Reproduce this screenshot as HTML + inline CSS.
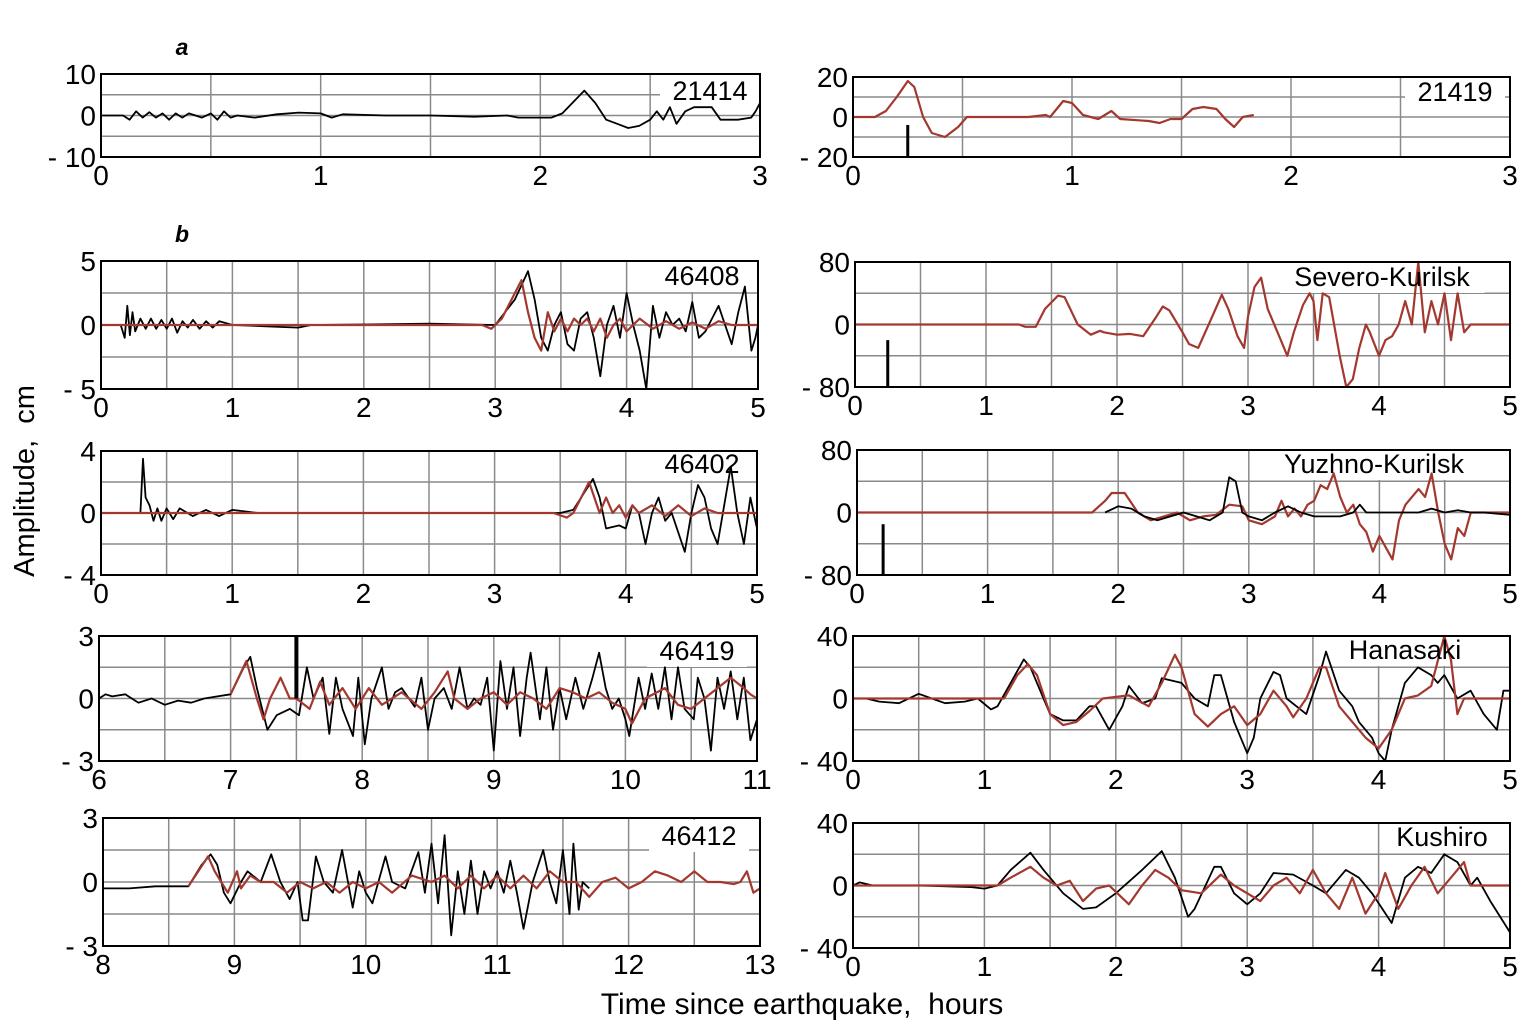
<!DOCTYPE html>
<html><head><meta charset="utf-8"><title>Tsunami records</title>
<style>
html,body{margin:0;padding:0;background:#fff;}
svg{display:block;font-family:"Liberation Sans",Arial,sans-serif;}
</style></head>
<body>
<svg id="fig" width="1533" height="1032" viewBox="0 0 1533 1032">
<rect x="0" y="0" width="1533" height="1032" fill="#fff"/>
<text x="182" y="55" font-size="23" font-weight="bold" font-style="italic" text-anchor="middle">a</text>
<text x="182" y="242" font-size="23" font-weight="bold" font-style="italic" text-anchor="middle">b</text>
<text transform="translate(34,481) rotate(-90)" font-size="29" text-anchor="middle">Amplitude,&#160; cm</text>
<text x="802" y="1014" font-size="30" text-anchor="middle">Time since earthquake,&#160; hours</text>
</svg>
<script>
// ---- data arrays ([hours, cm]) ----
const s21414Black=[[0,0],[0.1,0],[0.13,-1],[0.16,1],[0.19,-0.5],[0.22,0.8],[0.25,-0.5],[0.28,0.5],[0.31,-1],[0.34,0.5],[0.37,-0.5],[0.4,0.5],[0.43,0],[0.46,-0.5],[0.5,0.5],[0.53,-1],[0.56,1],[0.59,-0.5],[0.62,0],[0.7,-0.5],[0.8,0.3],[0.9,0.7],[1.0,0.5],[1.05,-0.5],[1.1,0.3],[1.3,0],[1.5,0],[1.7,-0.3],[1.85,0],[1.9,-0.5],[2.05,-0.5],[2.1,0.5],[2.2,6],[2.25,3],[2.3,-1],[2.35,-2],[2.4,-3],[2.45,-2.5],[2.5,-1],[2.53,1],[2.56,-1],[2.59,2],[2.62,-2],[2.66,1],[2.7,2],[2.78,2],[2.82,-1],[2.9,-1],[2.96,-0.5],[2.98,1],[3,3]];
const s21419Red=[[0,0],[0.1,0],[0.15,3],[0.2,10],[0.25,18],[0.28,15],[0.32,0],[0.36,-8],[0.42,-10],[0.48,-5],[0.52,0],[0.55,0],[0.8,0],[0.88,1],[0.9,0],[0.96,8],[1.0,7],[1.05,1],[1.12,-1],[1.18,3],[1.22,-1],[1.35,-2],[1.4,-3],[1.45,-1],[1.5,-1],[1.55,4],[1.6,5],[1.66,4],[1.7,-1],[1.74,-5],[1.78,0],[1.83,1]];
const s46408Black=[[0,0],[0.15,0],[0.18,-1],[0.2,1.5],[0.22,-0.8],[0.24,1],[0.26,-0.5],[0.3,0.5],[0.34,-0.3],[0.38,0.5],[0.42,-0.3],[0.46,0.4],[0.5,-0.3],[0.54,0.5],[0.58,-0.6],[0.62,0.3],[0.66,-0.2],[0.7,0.4],[0.75,-0.3],[0.8,0.3],[0.85,-0.2],[0.9,0.3],[1.0,0],[1.5,-0.2],[1.6,0],[2.5,0.1],[3,0],[3.15,2],[3.25,4.2],[3.3,2],[3.35,-1],[3.4,-2],[3.45,0],[3.5,1],[3.55,-1.5],[3.6,-2],[3.65,0.5],[3.7,1],[3.75,-1],[3.8,-4],[3.85,0],[3.9,1.5],[3.95,-1],[4.0,2.5],[4.05,0],[4.1,-2],[4.15,-5],[4.2,1.5],[4.25,-1],[4.3,1],[4.35,0],[4.4,0.5],[4.45,-0.5],[4.5,1.8],[4.55,-1],[4.6,-0.5],[4.65,0.5],[4.7,1.5],[4.75,0],[4.8,-1.5],[4.85,1],[4.9,3],[4.95,-2],[4.98,-1],[5,0]];
const s46408Red=[[0,0],[2.9,0],[2.97,-0.3],[3.05,0.5],[3.2,3.5],[3.25,1],[3.3,-1],[3.35,-2],[3.4,1],[3.45,-0.5],[3.5,0.5],[3.55,-0.5],[3.6,0.5],[3.65,0],[3.7,0.5],[3.75,-0.5],[3.8,0.5],[3.85,-1],[3.9,0],[3.95,0.5],[4.0,-0.5],[4.1,0.5],[4.2,-0.3],[4.3,0.3],[4.4,-0.3],[4.5,0.2],[4.6,-0.3],[4.7,0.3],[4.8,0],[5,0]];
const s46402Black=[[0,0],[0.3,0],[0.32,3.5],[0.34,1],[0.37,0.5],[0.4,-0.5],[0.43,0.3],[0.46,-0.5],[0.5,0.3],[0.55,-0.4],[0.6,0.3],[0.7,-0.2],[0.8,0.2],[0.9,-0.2],[1.0,0.2],[1.2,0],[3.5,0],[3.6,0.2],[3.75,2.2],[3.8,1],[3.85,-1],[3.95,-0.8],[4.0,-1],[4.05,0.5],[4.1,0],[4.15,-2],[4.2,0],[4.25,1],[4.3,-0.5],[4.35,0],[4.45,-2.5],[4.5,0],[4.55,1.8],[4.6,1],[4.65,-1],[4.7,-2],[4.75,0.5],[4.8,3],[4.85,0],[4.9,-2],[4.95,1],[5,-1]];
const s46402Red=[[0,0],[3.45,0],[3.55,-0.3],[3.6,0],[3.72,2],[3.8,0],[3.85,1],[3.9,0],[3.95,0.5],[4.0,-0.3],[4.05,0.5],[4.1,0],[4.2,0.5],[4.3,-0.2],[4.4,0.5],[4.5,-0.2],[4.6,0.3],[4.7,0],[5,0]];
const s46419Black=[[6,0],[6.05,0.2],[6.1,0.1],[6.2,0.2],[6.3,-0.2],[6.4,0],[6.5,-0.3],[6.6,-0.1],[6.7,-0.2],[6.8,0],[6.9,0.1],[7,0.2],[7.1,1.5],[7.15,2],[7.2,0.5],[7.28,-1.5],[7.35,-0.8],[7.45,-0.5],[7.52,-0.8],[7.58,1.5],[7.63,0],[7.7,1],[7.75,-1.7],[7.8,1],[7.85,-0.5],[7.93,-1.8],[7.97,1],[8.02,-2.2],[8.07,0],[8.15,1.5],[8.2,-0.5],[8.25,0.3],[8.3,0.5],[8.4,-0.4],[8.45,1],[8.5,-1.5],[8.55,0],[8.62,0.5],[8.68,-0.5],[8.74,1.5],[8.8,-0.5],[8.85,0],[8.9,-0.3],[8.95,1],[9.0,-2.5],[9.05,1.8],[9.1,-0.5],[9.15,1.5],[9.2,-1.8],[9.25,1],[9.28,2.2],[9.35,-1],[9.4,1.5],[9.45,-1.5],[9.5,0.5],[9.55,-1],[9.62,1],[9.68,-0.5],[9.75,1],[9.8,2.2],[9.85,0.5],[9.9,-0.5],[9.95,0],[10.0,-1],[10.03,-1.8],[10.1,1],[10.15,-0.5],[10.2,1.2],[10.25,-0.5],[10.3,1.5],[10.35,-1],[10.4,1.5],[10.45,-0.5],[10.52,-1],[10.55,1],[10.6,0],[10.65,-2.5],[10.7,1],[10.75,-0.5],[10.8,1.3],[10.85,-1],[10.9,1],[10.95,-2],[11,-1]];
const s46419Red=[[7,0.2],[7.12,1.8],[7.2,0],[7.25,-1],[7.3,0],[7.38,1],[7.45,0],[7.5,0],[7.6,-0.5],[7.68,0.8],[7.75,-0.3],[7.85,0.5],[7.95,-0.5],[8.05,0.5],[8.15,-0.3],[8.3,0.3],[8.45,-0.5],[8.55,0.3],[8.65,1.3],[8.7,0],[8.8,-0.5],[8.9,0],[9.0,0.3],[9.1,-0.3],[9.2,0.3],[9.3,0],[9.4,-0.5],[9.5,0.5],[9.6,0.3],[9.7,0],[9.8,0.3],[9.9,-0.2],[10.0,-0.5],[10.05,-1.2],[10.15,0],[10.3,0.5],[10.4,-0.3],[10.5,-0.5],[10.6,0],[10.7,0.5],[10.8,1],[10.9,0.5],[10.95,0.2],[11,0]];
const s46412Black=[[8,-0.3],[8.2,-0.3],[8.4,-0.2],[8.55,-0.2],[8.65,-0.2],[8.75,0.8],[8.82,1.3],[8.87,0.8],[8.92,-0.5],[8.97,-1],[9.05,0],[9.1,0.5],[9.2,0],[9.28,1.3],[9.35,0],[9.42,-0.8],[9.48,0],[9.52,-1.8],[9.56,-1.8],[9.62,1.2],[9.68,0],[9.75,-0.5],[9.82,1.5],[9.9,-1.2],[9.95,0.5],[10.0,-0.5],[10.05,-1],[10.15,1.2],[10.2,0],[10.3,-0.3],[10.4,1.4],[10.45,-0.5],[10.5,1.8],[10.55,-1],[10.6,2.2],[10.65,-2.5],[10.7,0.5],[10.75,-1.5],[10.8,1],[10.85,-1.5],[10.9,0.5],[10.95,-0.3],[11,0.5],[11.05,-0.5],[11.1,1],[11.15,-0.5],[11.2,-2.2],[11.27,0],[11.35,1.5],[11.4,0],[11.45,-1],[11.5,1.5],[11.55,-1.5],[11.58,1.8],[11.62,-1.3],[11.65,0],[11.7,-0.3]];
const s46412Red=[[8.65,-0.2],[8.8,1.2],[8.85,0.5],[8.95,-0.5],[9.02,0.5],[9.05,-0.3],[9.12,0.3],[9.2,0],[9.3,0],[9.4,-0.5],[9.5,0],[9.6,-0.3],[9.7,0],[9.8,-0.5],[9.9,0],[10.0,-0.3],[10.1,0],[10.2,-0.5],[10.35,0.3],[10.5,0],[10.6,0.3],[10.7,-0.3],[10.8,0.3],[10.9,-0.3],[11.0,0.3],[11.1,-0.3],[11.2,0.3],[11.3,-0.3],[11.4,0.5],[11.5,0],[11.6,0],[11.7,-0.7],[11.8,0],[11.9,0.2],[12.0,-0.3],[12.1,0],[12.2,0.5],[12.3,0.3],[12.4,0],[12.5,0.5],[12.6,0],[12.7,0],[12.8,-0.1],[12.85,0],[12.9,0.5],[12.95,-0.5],[13,-0.3]];
const severoRed=[[0,0],[1.25,0],[1.3,-3],[1.38,-3],[1.45,20],[1.55,37],[1.6,35],[1.7,0],[1.8,-13],[1.87,-8],[1.9,-10],[2.0,-13],[2.1,-12],[2.2,-15],[2.3,10],[2.35,23],[2.4,18],[2.5,-10],[2.55,-25],[2.62,-30],[2.7,0],[2.8,38],[2.85,20],[2.92,-15],[2.97,-30],[3.0,10],[3.05,48],[3.1,60],[3.15,20],[3.25,-20],[3.3,-40],[3.35,-10],[3.42,25],[3.47,40],[3.5,30],[3.53,-20],[3.57,40],[3.62,35],[3.7,-40],[3.75,-80],[3.8,-70],[3.85,-30],[3.9,0],[3.93,-10],[4.0,-40],[4.05,-20],[4.1,-15],[4.15,0],[4.2,30],[4.25,0],[4.3,80],[4.35,-10],[4.4,30],[4.45,0],[4.5,40],[4.55,-20],[4.6,40],[4.65,-10],[4.7,0],[5,0]];
const yuzhnoRed=[[0,0],[1.8,0],[1.9,15],[1.95,25],[2.05,25],[2.15,0],[2.25,-10],[2.35,-5],[2.45,0],[2.55,-10],[2.65,-5],[2.75,-3],[2.85,10],[2.95,8],[3.0,-10],[3.1,-15],[3.2,-5],[3.25,15],[3.3,-5],[3.35,5],[3.4,-5],[3.45,10],[3.5,15],[3.55,35],[3.6,30],[3.65,50],[3.7,20],[3.75,0],[3.8,10],[3.85,-15],[3.9,-25],[3.95,-50],[4.0,-30],[4.05,-45],[4.1,-60],[4.15,-10],[4.2,10],[4.3,30],[4.35,20],[4.4,50],[4.45,0],[4.5,-40],[4.55,-60],[4.6,-20],[4.65,-30],[4.7,0],[5,0]];
const yuzhnoBlack=[[1.9,0],[2.0,8],[2.1,5],[2.2,-5],[2.3,-10],[2.4,-5],[2.5,0],[2.6,-5],[2.7,-10],[2.8,0],[2.85,45],[2.9,40],[2.95,0],[3.0,-5],[3.1,-10],[3.2,0],[3.3,8],[3.4,0],[3.5,-5],[3.6,-5],[3.7,-5],[3.8,0],[3.85,10],[3.9,0],[4.0,0],[4.3,0],[4.4,5],[4.5,0],[4.6,3],[4.7,0],[4.8,0],[5,-3]];
const hanasakiBlack=[[0,0],[0.1,0],[0.2,-2],[0.35,-3],[0.5,3],[0.6,0],[0.7,-3],[0.85,-2],[0.95,0],[1.05,-7],[1.1,-5],[1.2,10],[1.3,25],[1.35,20],[1.5,-10],[1.6,-14],[1.7,-14],[1.8,-5],[1.85,-5],[1.95,-20],[2.05,-5],[2.1,8],[2.2,-3],[2.3,0],[2.35,13],[2.5,10],[2.6,0],[2.7,-5],[2.75,15],[2.8,15],[2.9,-15],[3.0,-35],[3.05,-25],[3.1,0],[3.2,17],[3.25,15],[3.3,0],[3.45,-10],[3.55,15],[3.6,30],[3.7,5],[3.8,-5],[3.85,-15],[3.95,-25],[4.0,-35],[4.05,-40],[4.1,-20],[4.2,10],[4.3,20],[4.4,15],[4.45,10],[4.5,15],[4.6,0],[4.7,5],[4.8,-10],[4.9,-20],[4.95,5],[5,5]];
const hanasakiRed=[[0,0],[1.05,0],[1.15,0],[1.25,15],[1.33,22],[1.4,15],[1.5,-10],[1.6,-17],[1.7,-15],[1.8,-8],[1.9,0],[2.1,2],[2.25,-5],[2.35,10],[2.45,28],[2.5,20],[2.6,-10],[2.7,-18],[2.8,-10],[2.9,-5],[3.0,-17],[3.1,-10],[3.2,5],[3.3,-5],[3.35,-12],[3.45,0],[3.55,20],[3.6,20],[3.7,-5],[3.8,-15],[3.9,-25],[4.0,-32],[4.1,-20],[4.2,0],[4.3,2],[4.4,8],[4.5,40],[4.55,25],[4.6,-10],[4.65,0],[4.7,0],[5,0]];
const kushiroBlack=[[0,0],[0.05,2],[0.15,0],[0.5,0],[0.9,-1],[1.0,-2],[1.1,0],[1.2,10],[1.35,21],[1.45,10],[1.6,-5],[1.75,-15],[1.85,-14],[2.0,-5],[2.2,10],[2.35,22],[2.45,5],[2.55,-20],[2.6,-15],[2.75,12],[2.8,12],[2.9,-5],[3.0,-12],[3.1,-5],[3.2,8],[3.35,7],[3.5,0],[3.6,-5],[3.75,10],[3.85,5],[3.95,-5],[4.1,-24],[4.2,5],[4.3,12],[4.4,8],[4.5,20],[4.6,15],[4.7,0],[4.75,5],[4.85,-10],[5,-30]];
const kushiroRed=[[0,0],[1.1,0],[1.2,5],[1.35,12],[1.45,5],[1.55,0],[1.65,3],[1.75,-10],[1.85,-2],[1.95,0],[2.1,-12],[2.2,0],[2.3,10],[2.4,5],[2.5,-3],[2.65,-5],[2.8,7],[2.9,0],[3.0,-5],[3.1,-10],[3.2,0],[3.3,5],[3.4,-5],[3.5,10],[3.6,-5],[3.7,-15],[3.8,5],[3.9,-18],[4.0,-5],[4.05,8],[4.15,-15],[4.25,0],[4.35,12],[4.45,-5],[4.55,5],[4.65,15],[4.7,0],[5,0]];
// earthquake markers / spikes: [time, fromValue, toValue]
const marker21419=[0.25,-20,-4];
const markerSevero=[0.25,-80,-20];
const markerYuzhno=[0.2,-80,-15];
const spike46419=[7.5,0,3];
// tick labels
const ticks03=[0,1,2,3];
const ticks05=[0,1,2,3,4,5];
const ticks611=[6,7,8,9,10,11];
const ticks813=[8,9,10,11,12,13];

const NS="http://www.w3.org/2000/svg";
const svg=document.getElementById('fig');
const RED="#a3382f";
function el(tag,attrs,parent){const e=document.createElementNS(NS,tag);for(const k in attrs)e.setAttribute(k,attrs[k]);(parent||svg).appendChild(e);return e;}

function panel(p){
  const g=el('g',{});
  
  
  const xs=t=>p.x0+(t-p.tmin)/(p.tmax-p.tmin)*(p.x1-p.x0);
  const ys=v=>p.y1-(v+p.ymax)/(2*p.ymax)*(p.y1-p.y0);
  for(let t=p.tmin+0.5;t<p.tmax;t+=0.5){
    const l=el('line',{x1:xs(t),x2:xs(t),y1:p.y0,y2:p.y1,stroke:"#8a8a8a","stroke-width":1.5},g);
    
    
  }
  [-0.5,0,0.5].forEach(f=>{
    const l=el('line',{x1:p.x0,x2:p.x1,y1:ys(f*p.ymax),y2:ys(f*p.ymax),stroke:"#8a8a8a","stroke-width":1.5},g);
    
    
  });
  const lb=el('rect',{x:p.lx-p.lw/2,y:p.ly-25,width:p.lw,height:32,fill:"#fff"},g);
  
  
  p.series.forEach(s=>{
    const d=s.data.map((q,i)=>(i?'L':'M')+xs(q[0]).toFixed(1)+' '+ys(q[1]).toFixed(1)).join(' ');
    const path=el('path',{d:d,fill:"none",stroke:s.color,"stroke-width":s.color==="#000"?1.8:2.2,"stroke-linejoin":"round"},g);
    
    
  });
  (p.bars||[]).forEach(b=>{
    const r=el('line',{x1:xs(b.v[0]),x2:xs(b.v[0]),y1:ys(b.v[1]),y2:ys(b.v[2]),stroke:"#000","stroke-width":b.w},g);
    
    
  });
  const lt=el('text',{x:p.lx,y:p.ly,"font-size":27,"text-anchor":"middle"},g);
  lt.textContent=p.label;
  
  
  const fr=el('rect',{x:p.x0,y:p.y0,width:p.x1-p.x0,height:p.y1-p.y0,fill:"none",stroke:"#000","stroke-width":2},g);
  
  
  p.ticks.forEach(t=>{
    const tx=el('text',{x:xs(t),y:p.y1+28,"font-size":28,"text-anchor":"middle"},g);
    tx.textContent=String(t);
    
    
  });
  [p.ymax,0,-p.ymax].forEach(v=>{
    const ty=el('text',{x:p.x0-5,y:ys(v)+10,"font-size":28,"text-anchor":"end"},g);
    ty.textContent=v<0?'- '+(-v):String(v);
    
    
  });
}

panel({name:'21414',x0:101,x1:760,y0:74,y1:157,tmin:0,tmax:3,ymax:10,ticks:ticks03,label:'21414',lx:710,ly:100,lw:100,
  series:[{data:s21414Black,color:"#000",name:'series-21414-observed'}]});
panel({name:'21419',x0:853,x1:1510,y0:77,y1:157,tmin:0,tmax:3,ymax:20,ticks:ticks03,label:'21419',lx:1455,ly:101,lw:100,
  series:[{data:s21419Red,color:RED,name:'series-21419-model'}],bars:[{v:marker21419,w:3,name:'earthquake-marker'}]});
panel({name:'46408',x0:101,x1:758,y0:261,y1:389,tmin:0,tmax:5,ymax:5,ticks:ticks05,label:'46408',lx:702,ly:285,lw:100,
  series:[{data:s46408Black,color:"#000",name:'series-46408-observed'},{data:s46408Red,color:RED,name:'series-46408-model'}]});
panel({name:'severo-kurilsk',x0:855,x1:1510,y0:262,y1:387,tmin:0,tmax:5,ymax:80,ticks:ticks05,label:'Severo-Kurilsk',lx:1382,ly:286,lw:205,
  series:[{data:severoRed,color:RED,name:'series-severo-kurilsk-model'}],bars:[{v:markerSevero,w:3,name:'earthquake-marker'}]});
panel({name:'46402',x0:101,x1:757,y0:451,y1:575,tmin:0,tmax:5,ymax:4,ticks:ticks05,label:'46402',lx:702,ly:473,lw:100,
  series:[{data:s46402Black,color:"#000",name:'series-46402-observed'},{data:s46402Red,color:RED,name:'series-46402-model'}]});
panel({name:'yuzhno-kurilsk',x0:857,x1:1510,y0:450,y1:575,tmin:0,tmax:5,ymax:80,ticks:ticks05,label:'Yuzhno-Kurilsk',lx:1374,ly:473,lw:210,
  series:[{data:yuzhnoRed,color:RED,name:'series-yuzhno-kurilsk-model'},{data:yuzhnoBlack,color:"#000",name:'series-yuzhno-kurilsk-observed'}],bars:[{v:markerYuzhno,w:3,name:'earthquake-marker'}]});
panel({name:'46419',x0:99,x1:757,y0:636,y1:761,tmin:6,tmax:11,ymax:3,ticks:ticks611,label:'46419',lx:697,ly:660,lw:100,
  series:[{data:s46419Black,color:"#000",name:'series-46419-observed'},{data:s46419Red,color:RED,name:'series-46419-model'}],bars:[{v:spike46419,w:4,name:'spike-46419'}]});
panel({name:'hanasaki',x0:853,x1:1510,y0:636,y1:761,tmin:0,tmax:5,ymax:40,ticks:ticks05,label:'Hanasaki',lx:1405,ly:659,lw:130,
  series:[{data:hanasakiBlack,color:"#000",name:'series-hanasaki-observed'},{data:hanasakiRed,color:RED,name:'series-hanasaki-model'}]});
panel({name:'46412',x0:103,x1:760,y0:818,y1:946,tmin:8,tmax:13,ymax:3,ticks:ticks813,label:'46412',lx:699,ly:845,lw:100,
  series:[{data:s46412Black,color:"#000",name:'series-46412-observed'},{data:s46412Red,color:RED,name:'series-46412-model'}]});
panel({name:'kushiro',x0:853,x1:1510,y0:823,y1:948,tmin:0,tmax:5,ymax:40,ticks:ticks05,label:'Kushiro',lx:1442,ly:846,lw:114,
  series:[{data:kushiroBlack,color:"#000",name:'series-kushiro-observed'},{data:kushiroRed,color:RED,name:'series-kushiro-model'}]});
</script>
</body></html>
